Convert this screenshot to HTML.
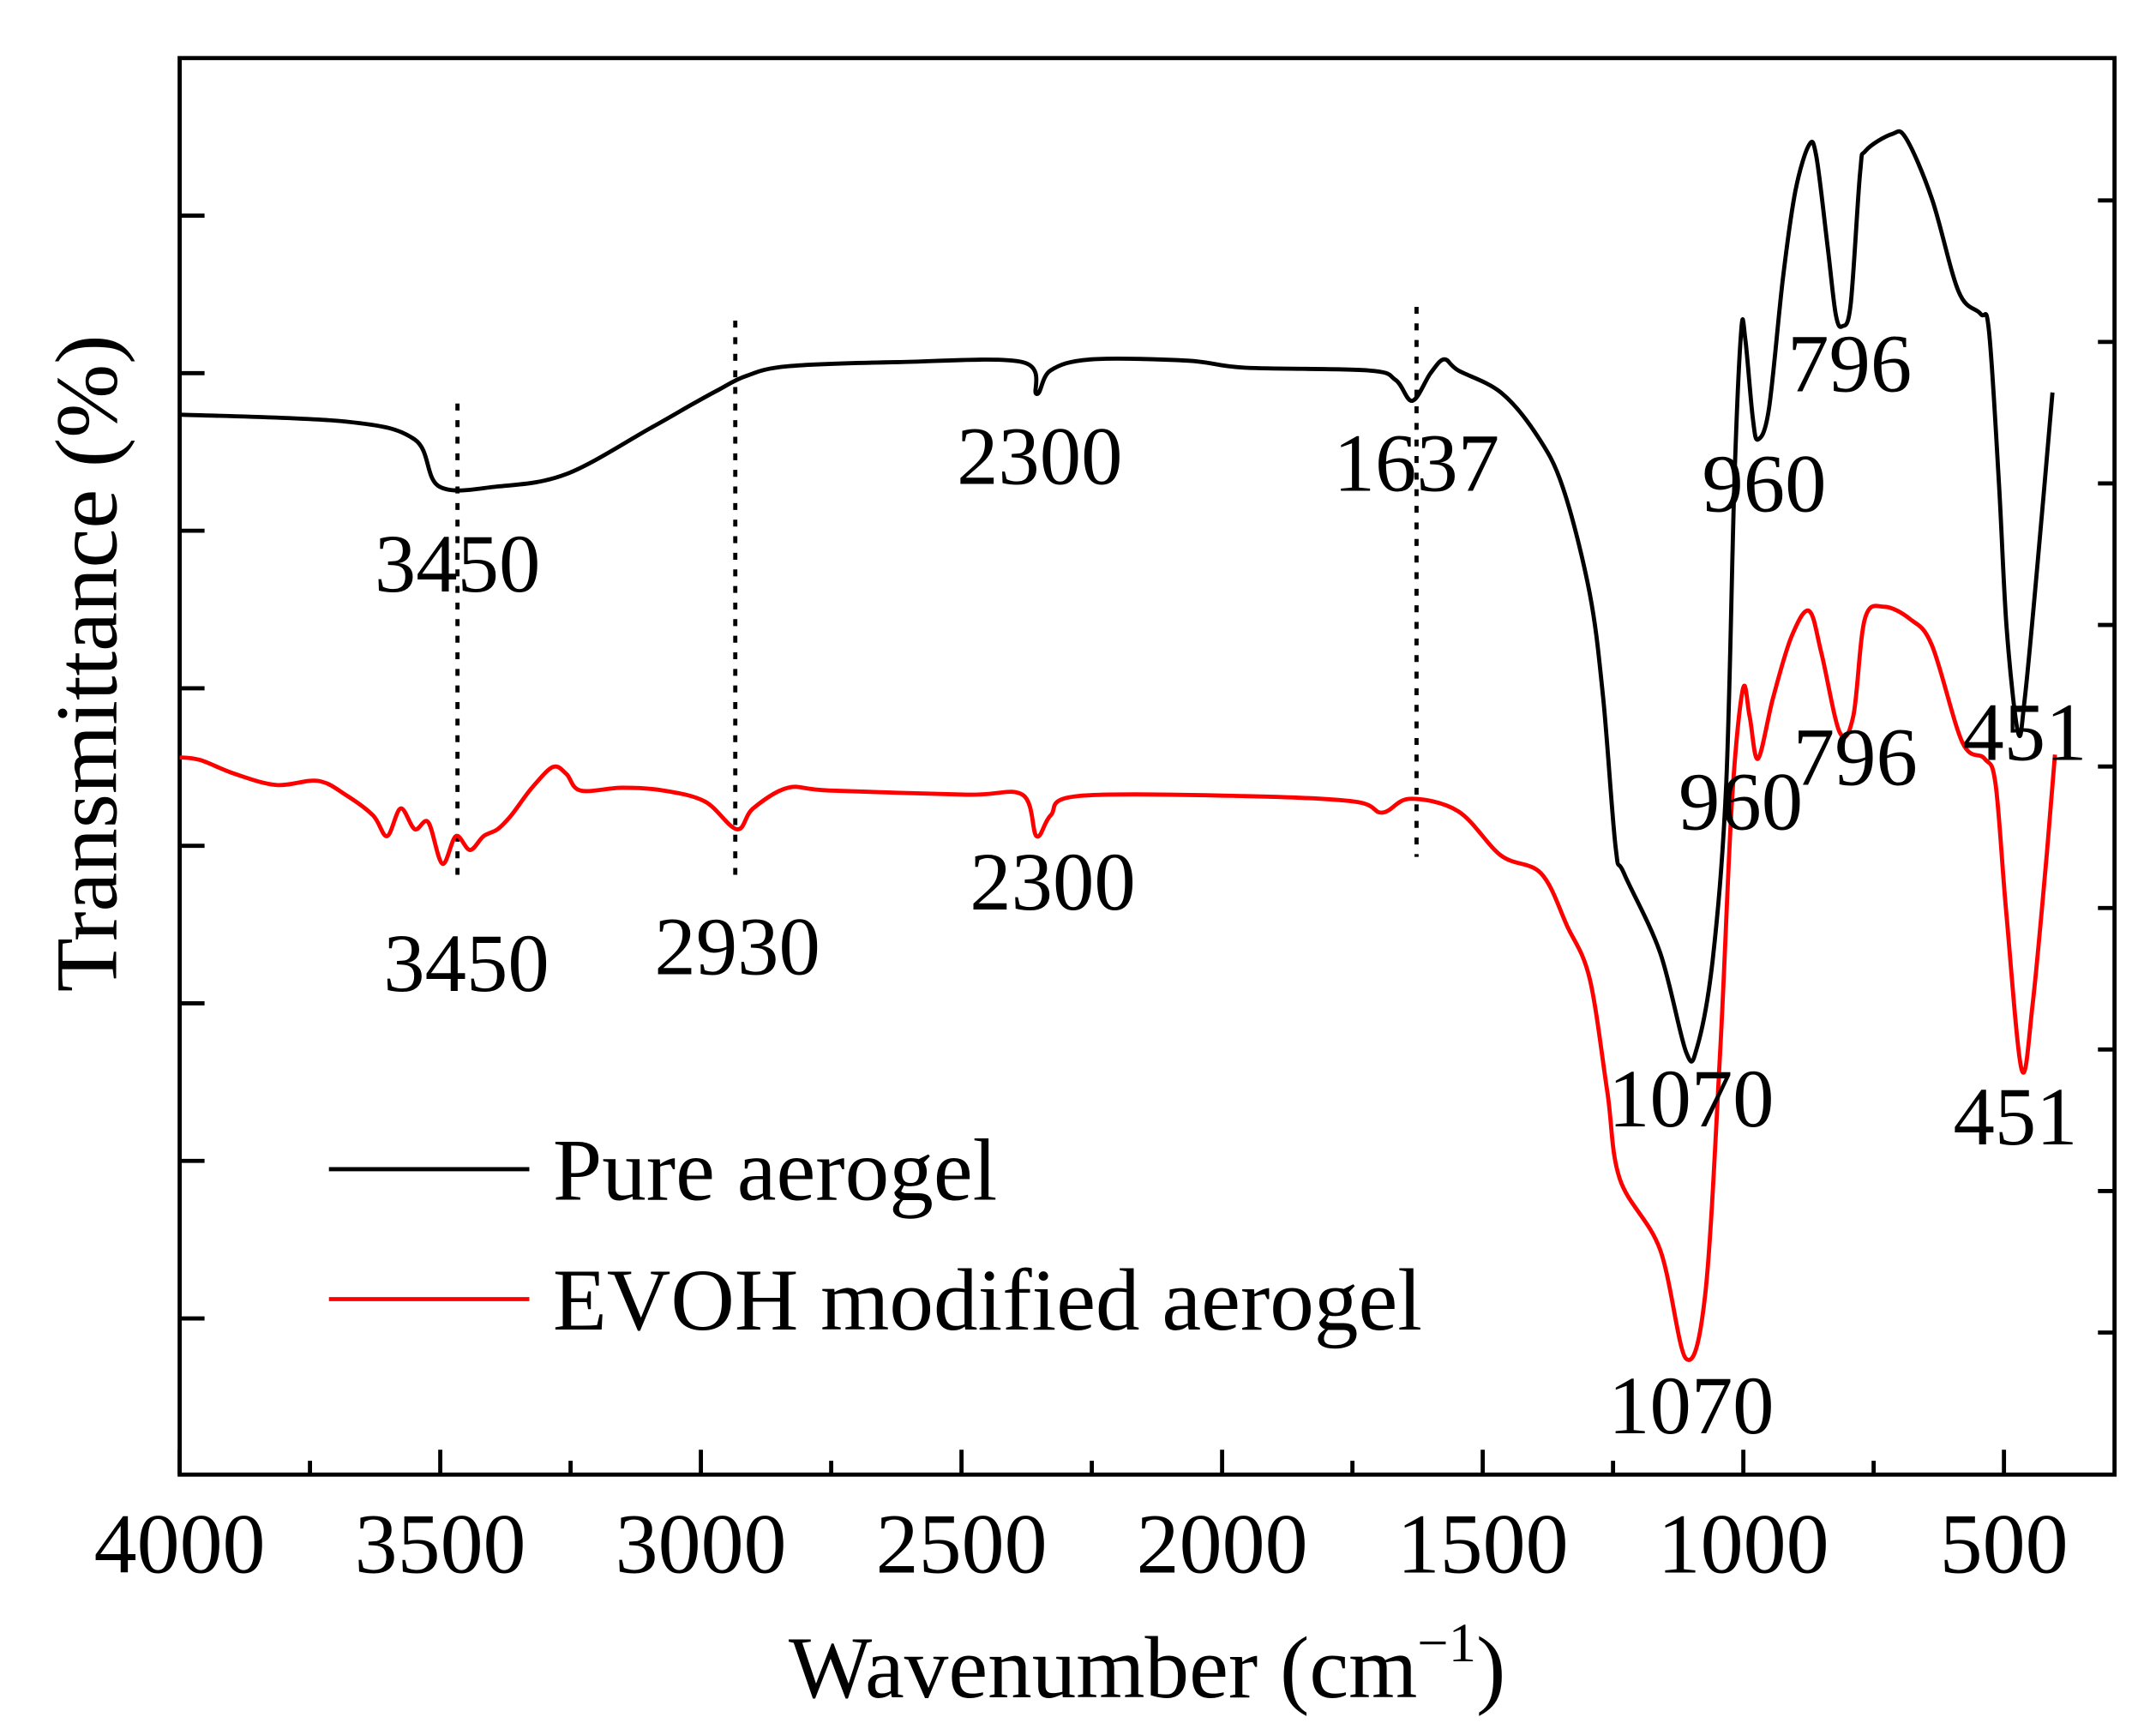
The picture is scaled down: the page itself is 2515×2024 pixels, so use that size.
<!DOCTYPE html>
<html><head><meta charset="utf-8"><style>
html,body{margin:0;padding:0;background:#fff}
svg{display:block}
text{font-family:"Liberation Serif","Times New Roman",serif;fill:#000}
</style></head><body>
<svg id="chart" width="2515" height="2024" viewBox="0 0 1560 1255.4" xmlns="http://www.w3.org/2000/svg">
<g id="frame-g"></g>
<g id="marks"></g>
<g id="labels"></g>
<text x="830" y="1228" font-size="64" text-anchor="middle">Wavenumber (cm<tspan font-size="40" dy="-26">−1</tspan><tspan dy="26">)</tspan></text>
<text transform="translate(84,480) rotate(-90)" font-size="64" text-anchor="middle">Transmittance (%)</text>
<g>
<line x1="238" y1="846" x2="383" y2="846" stroke="#000" stroke-width="3"/>
<text x="400" y="868" font-size="64">Pure aerogel</text>
<line x1="238" y1="940" x2="383" y2="940" stroke="#f00" stroke-width="3"/>
<text x="400" y="962" font-size="64">EVOH modified aerogel</text>
</g>
</svg>
<script>
const xTicks=[4000,3500,3000,2500,2000,1500,1000,500];
const xMinor=[3750,3250,2750,2250,1750,1250,750];
const pureWn=[4000,3682,3549,3502,3390,3258,3098,3019,2966,2913,2833,2621,2383,2356,2329,2250,2064,1958,1720,1667,1635,1600,1574,1547,1465,1396,1346,1295,1269,1245,1229,1160,1110,1089,1059,1033,1017,1004,996,982,972,951,924,900,874,860,839,823,810,794,776,765,715,688,638,587,545,529,510,495,473,460,436,407];
const pureT=[76.7,76.2,74.9,71.5,71.5,72.4,75.7,77.4,78.5,79.5,80.2,80.5,80.5,78.2,79.9,80.7,80.6,80.1,79.9,79.2,77.7,79.7,80.7,79.9,78.3,75.2,71.4,63.8,56.2,45.4,43.5,37.8,30.6,30.9,37.2,49.9,72.0,82.8,82.1,76.5,74.9,77.1,86.6,92.9,96.2,95.4,89.1,84.0,83.1,84.7,94.2,95.8,97.0,96.7,92.3,85.6,84.0,82.8,72.0,61.3,53.7,56.2,65.7,78.3];
const evohWn=[4000,3960,3894,3814,3735,3682,3629,3602,3576,3549,3523,3496,3470,3443,3417,3390,3364,3324,3284,3258,3231,3151,3072,2992,2931,2900,2833,2754,2489,2383,2356,2329,2276,1958,1746,1693,1640,1547,1465,1388,1338,1295,1261,1237,1160,1110,1073,1044,1022,1001,988,972,943,908,874,850,815,789,767,730,680,638,580,537,516,495,466,445,418,402];
const evohT=[51.9,51.7,50.7,49.9,50.2,49.2,47.7,46.2,48.2,46.7,47.2,44.2,46.2,45.2,46.2,46.7,47.7,49.7,51.2,50.7,49.5,49.7,49.5,48.7,46.7,48.2,49.7,49.5,49.2,49.2,46.2,47.7,49.1,49.1,48.7,47.9,48.9,48.0,44.8,43.5,39.7,35.9,27.7,21.4,16.3,8.4,13.1,30.9,48.6,56.8,54.9,51.8,56.2,60.6,62.5,59.4,53.7,54.9,61.9,62.8,61.9,60.0,53.0,51.8,49.9,40.4,29.3,34.0,44.8,52.1];
const markerWn=[3467,2934,1627];
const markerTop=[77.5,83.5,84.5];
const markerBot=[42.7,42.7,44.7];
const annText=["3450","2300","1637","960","796","1070","451","3450","2930","2300","960","796","1070","451"];
const annWn=[3467,2350,1627,960,796,1100,460,3450,2930,2325,1005,785,1100,478];
const annT=[63.9,71.7,71.2,69.7,78.4,25.2,51.7,35.0,36.2,40.9,46.7,49.9,3.0,23.9];

const NS="http://www.w3.org/2000/svg";
const L=130,R=1530,T=42,B=1067;
const X=w=>L+(4000-w)*0.37714;
const Y=v=>B-v*10;
function mk(tag,attrs,parent){const e=document.createElementNS(NS,tag);for(const k in attrs)e.setAttribute(k,attrs[k]);parent.appendChild(e);return e;}
const fr=document.getElementById('frame-g'),mg=document.getElementById('marks'),lg=document.getElementById('labels');
const box=mk('rect',{x:L,y:T,width:R-L,height:B-T,fill:'none',stroke:'#000','stroke-width':3},fr);


xTicks.forEach(w=>{
  const t=mk('line',{x1:X(w),x2:X(w),y1:B,y2:B-18,stroke:'#000','stroke-width':3},fr);
  
  
  const tx=mk('text',{x:X(w),y:1138,'font-size':62,'text-anchor':'middle'},lg);
  tx.textContent=w;
  
  
});
xMinor.forEach(w=>{
  const t=mk('line',{x1:X(w),x2:X(w),y1:B,y2:B-10,stroke:'#000','stroke-width':3},fr);
  
  
});
for(let i=0;i<8;i++){const y=156+i*114;
  const t=mk('line',{x1:L,x2:L+18,y1:y,y2:y,stroke:'#000','stroke-width':3},fr);
  
  }
for(let i=0;i<9;i++){const y=145+i*102.4;
  const t=mk('line',{x1:R,x2:R-12,y1:y,y2:y,stroke:'#000','stroke-width':3},fr);
  
  }
markerWn.forEach((w,i)=>{
  const d=mk('line',{x1:X(w),x2:X(w),y1:Y(markerTop[i]),y2:Y(markerBot[i]),stroke:'#000','stroke-width':3,'stroke-dasharray':'5 7'},mg);
  
  
});
function path(ws,vs,color,name){
  const P=ws.map((w,i)=>[X(w),Y(vs[i])]);
  let d='M'+P[0][0].toFixed(1)+' '+P[0][1].toFixed(1);
  for(let i=0;i<P.length-1;i++){
    const p0=P[Math.max(0,i-1)],p1=P[i],p2=P[i+1],p3=P[Math.min(P.length-1,i+2)];
    const c1=[p1[0]+(p2[0]-p0[0])/6,p1[1]+(p2[1]-p0[1])/6];
    const c2=[p2[0]-(p3[0]-p1[0])/6,p2[1]-(p3[1]-p1[1])/6];
    d+=' C'+c1[0].toFixed(1)+' '+c1[1].toFixed(1)+' '+c2[0].toFixed(1)+' '+c2[1].toFixed(1)+' '+p2[0].toFixed(1)+' '+p2[1].toFixed(1);
  }
  const p=mk('path',{d:d,fill:'none',stroke:color,'stroke-width':3,'stroke-linejoin':'round'},mg);
  
  
}
path(pureWn,pureT,'#000','series-pure-aerogel');
path(evohWn,evohT,'#f00','series-evoh-aerogel');
annText.forEach((s,i)=>{
  const t=mk('text',{x:X(annWn[i]),y:Y(annT[i]),'font-size':60,'text-anchor':'middle'},lg);
  t.textContent=s;
  
  
});
</script>
</body></html>
